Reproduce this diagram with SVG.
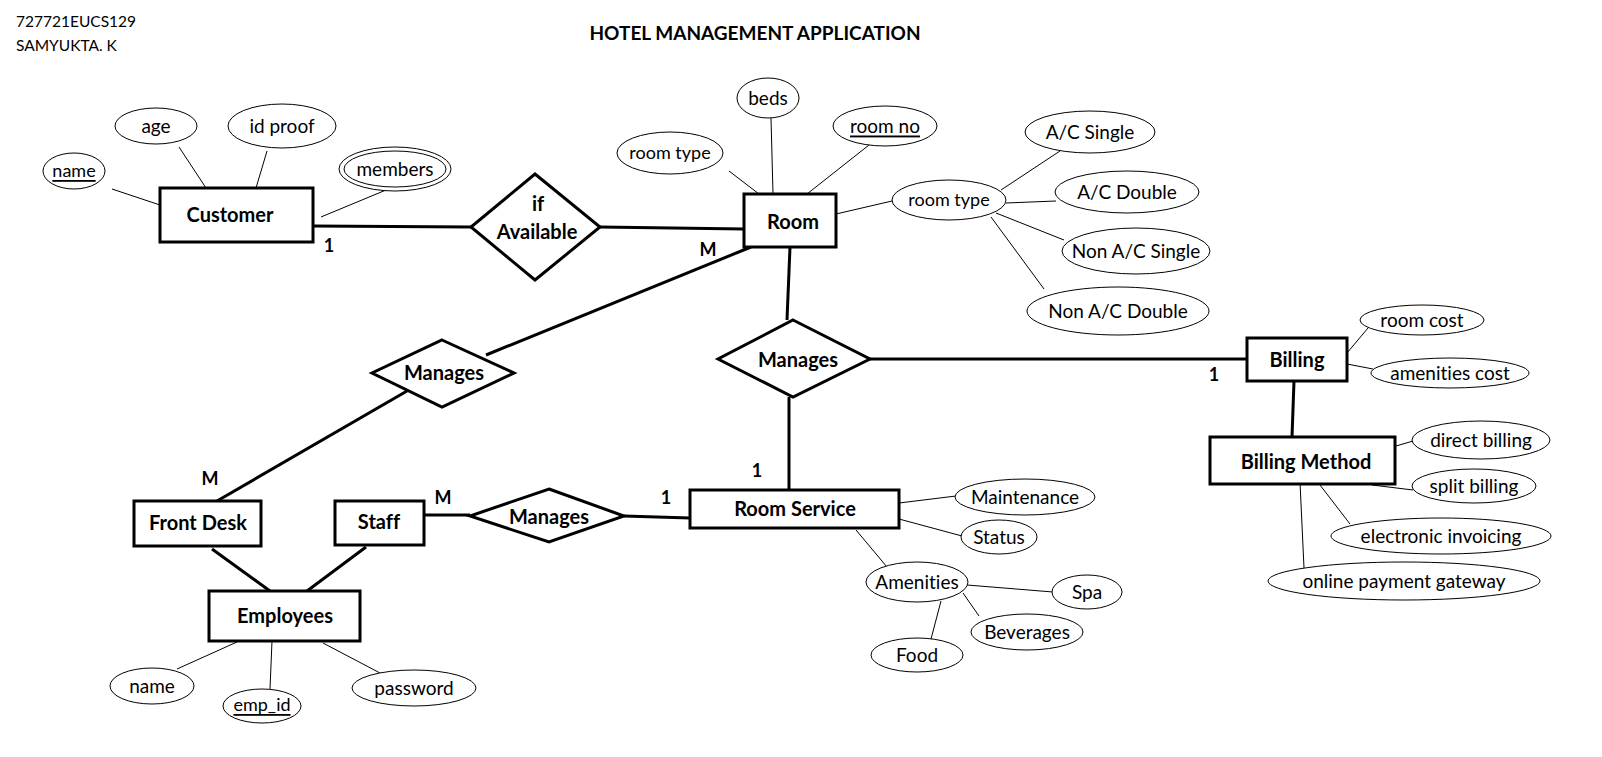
<svg xmlns="http://www.w3.org/2000/svg" width="1602" height="757" viewBox="0 0 1602 757">
<style>
text{font-family:Lato,"Open Sans","Liberation Sans",sans-serif;fill:#000;font-variant-ligatures:none;}
.t{font-size:19px;text-anchor:middle;dominant-baseline:central;}
.s{font-size:18px;}
.b{font-size:20px;font-weight:bold;text-anchor:middle;dominant-baseline:central;}
.ent{fill:#fff;stroke:#000;stroke-width:3;}
.rel{fill:#fff;stroke:#000;stroke-width:3;stroke-linejoin:miter;}
.att{fill:#fff;stroke:#000;stroke-width:1;}
.thin{stroke:#000;stroke-width:1;fill:none;}
.thick{stroke:#000;stroke-width:3;fill:none;}
.card{font-size:18px;font-weight:bold;dominant-baseline:central;text-anchor:middle;}
</style>
<rect width="1602" height="757" fill="#fff"/>
<text x="16" y="27" font-size="15.5">727721EUCS129</text>
<text x="16" y="51" font-size="15.5">SAMYUKTA. K</text>
<text x="755" y="40" font-size="19" font-weight="bold" text-anchor="middle">HOTEL MANAGEMENT APPLICATION</text>

<g id="connectors">
<line class="thick" x1="313" y1="226" x2="471" y2="227"/>
<line class="thick" x1="600" y1="227" x2="744" y2="229"/>
<line class="thick" x1="751" y1="247" x2="486" y2="355"/>
<line class="thick" x1="407" y1="391" x2="217" y2="501"/>
<line class="thick" x1="790" y1="247" x2="787" y2="320"/>
<line class="thick" x1="870" y1="359" x2="1246" y2="359"/>
<line class="thick" x1="789" y1="397" x2="789" y2="490"/>
<line class="thick" x1="424" y1="515" x2="470" y2="515"/>
<line class="thick" x1="624" y1="516" x2="690" y2="518"/>
<line class="thick" x1="1294" y1="381" x2="1292" y2="437"/>
<line class="thick" x1="212" y1="549" x2="270" y2="591"/>
<line class="thick" x1="366" y1="547" x2="307" y2="591"/>
<line class="thin" x1="112" y1="189" x2="160" y2="205"/>
<line class="thin" x1="179" y1="147" x2="206" y2="188"/>
<line class="thin" x1="267" y1="151" x2="256" y2="188"/>
<line class="thin" x1="321" y1="217" x2="386" y2="190"/>
<line class="thin" x1="729" y1="171" x2="759" y2="194"/>
<line class="thin" x1="771" y1="118" x2="773" y2="194"/>
<line class="thin" x1="869" y1="145" x2="807" y2="194"/>
<line class="thin" x1="836" y1="214" x2="892" y2="201"/>
<line class="thin" x1="1001" y1="190" x2="1060" y2="151"/>
<line class="thin" x1="1006" y1="203" x2="1056" y2="201"/>
<line class="thin" x1="996" y1="213" x2="1064" y2="240"/>
<line class="thin" x1="991" y1="217" x2="1044" y2="289"/>
<line class="thin" x1="1347" y1="353" x2="1368" y2="328"/>
<line class="thin" x1="1347" y1="364" x2="1373" y2="369"/>
<line class="thin" x1="1396" y1="446" x2="1413" y2="441"/>
<line class="thin" x1="1372" y1="485" x2="1413" y2="490"/>
<line class="thin" x1="1320" y1="485" x2="1350" y2="524"/>
<line class="thin" x1="1300" y1="482" x2="1304" y2="568"/>
<line class="thin" x1="899" y1="503" x2="956" y2="496"/>
<line class="thin" x1="899" y1="519" x2="962" y2="536"/>
<line class="thin" x1="856" y1="530" x2="887" y2="567"/>
<line class="thin" x1="967" y1="585" x2="1053" y2="592"/>
<line class="thin" x1="963" y1="593" x2="979" y2="616"/>
<line class="thin" x1="941" y1="601" x2="931" y2="639"/>
<line class="thin" x1="237" y1="642" x2="177" y2="669"/>
<line class="thin" x1="272" y1="641" x2="270" y2="689"/>
<line class="thin" x1="323" y1="643" x2="380" y2="673"/>
</g>

<g id="cardinalities">
<text class="card" x="329" y="245">1</text>
<text class="card" x="708" y="249">M</text>
<text class="card" x="1214" y="374">1</text>
<text class="card" x="757" y="470">1</text>
<text class="card" x="666" y="497">1</text>
<text class="card" x="443" y="497">M</text>
<text class="card" x="210" y="478">M</text>
</g>

<g id="customer">
<rect class="ent" x="160" y="188" width="153" height="54"/>
<text class="b" x="230" y="214">Customer</text>
</g>
<g id="cust-name"><ellipse class="att" cx="74" cy="171" rx="31" ry="18"/><text class="t s" x="74" y="170" text-decoration="underline">name</text></g>
<g id="cust-age"><ellipse class="att" cx="156" cy="126" rx="41" ry="18"/><text class="t" x="156" y="125">age</text></g>
<g id="cust-idproof"><ellipse class="att" cx="282" cy="126" rx="54" ry="22"/><text class="t" x="282" y="125">id proof</text></g>
<g id="cust-members"><ellipse class="att" cx="395" cy="169" rx="56" ry="22"/><ellipse class="att" cx="395" cy="169" rx="51" ry="18"/><text class="t" x="395" y="168">members</text></g>

<g id="if-available">
<polygon class="rel" points="535,174 600,227 535,280 471,227"/>
<text class="b" x="538" y="203">if</text>
<text class="b" x="537" y="231">Available</text>
</g>

<g id="room">
<rect class="ent" x="744" y="194" width="92" height="53"/>
<text class="b" x="793" y="221">Room</text>
</g>
<g id="room-type1"><ellipse class="att" cx="670" cy="153" rx="53" ry="21"/><text class="t s" x="670" y="152">room type</text></g>
<g id="room-beds"><ellipse class="att" cx="768" cy="98" rx="31" ry="20"/><text class="t" x="768" y="97">beds</text></g>
<g id="room-no"><ellipse class="att" cx="885" cy="126" rx="52" ry="20"/><text class="t" x="885" y="125" text-decoration="underline">room no</text></g>
<g id="room-type2"><ellipse class="att" cx="949" cy="200" rx="57" ry="20"/><text class="t s" x="949" y="199">room type</text></g>
<g id="ac-single"><ellipse class="att" cx="1090" cy="132" rx="65" ry="21"/><text class="t" x="1090" y="131">A/C Single</text></g>
<g id="ac-double"><ellipse class="att" cx="1127" cy="192" rx="72" ry="21"/><text class="t" x="1127" y="191">A/C Double</text></g>
<g id="nonac-single"><ellipse class="att" cx="1136" cy="251" rx="74" ry="23"/><text class="t" x="1136" y="250">Non A/C Single</text></g>
<g id="nonac-double"><ellipse class="att" cx="1118" cy="311" rx="91" ry="24"/><text class="t" x="1118" y="310">Non A/C Double</text></g>

<g id="manages-billing">
<polygon class="rel" points="793,320 870,359 793,397 718,359"/>
<text class="b" x="798" y="359">Manages</text>
</g>

<g id="billing">
<rect class="ent" x="1247" y="338" width="100" height="43"/>
<text class="b" x="1297" y="359">Billing</text>
</g>
<g id="room-cost"><ellipse class="att" cx="1422" cy="320" rx="62" ry="15"/><text class="t" x="1422" y="319">room cost</text></g>
<g id="amenities-cost"><ellipse class="att" cx="1450" cy="373" rx="79" ry="15"/><text class="t" x="1450" y="372">amenities cost</text></g>

<g id="billing-method">
<rect class="ent" x="1210" y="437" width="185" height="47"/>
<text class="b" x="1306" y="461">Billing Method</text>
</g>
<g id="direct-billing"><ellipse class="att" cx="1481" cy="440" rx="69" ry="19"/><text class="t" x="1481" y="439">direct billing</text></g>
<g id="split-billing"><ellipse class="att" cx="1474" cy="486" rx="62" ry="17"/><text class="t" x="1474" y="485">split billing</text></g>
<g id="e-invoicing"><ellipse class="att" cx="1441" cy="536" rx="110" ry="18"/><text class="t" x="1441" y="535">electronic invoicing</text></g>
<g id="online-gateway"><ellipse class="att" cx="1404" cy="581" rx="136" ry="19"/><text class="t" x="1404" y="580">online payment gateway</text></g>

<g id="room-service">
<rect class="ent" x="690" y="490" width="209" height="38"/>
<text class="b" x="795" y="508">Room Service</text>
</g>
<g id="maintenance"><ellipse class="att" cx="1025" cy="497" rx="70" ry="18"/><text class="t" x="1025" y="496">Maintenance</text></g>
<g id="status"><ellipse class="att" cx="999" cy="537" rx="38" ry="17"/><text class="t" x="999" y="536">Status</text></g>
<g id="amenities"><ellipse class="att" cx="917" cy="582" rx="51" ry="20"/><text class="t" x="917" y="581">Amenities</text></g>
<g id="spa"><ellipse class="att" cx="1087" cy="592" rx="35" ry="17"/><text class="t" x="1087" y="591">Spa</text></g>
<g id="beverages"><ellipse class="att" cx="1027" cy="632" rx="56" ry="18"/><text class="t" x="1027" y="631">Beverages</text></g>
<g id="food"><ellipse class="att" cx="917" cy="655" rx="46" ry="17"/><text class="t" x="917" y="654">Food</text></g>

<g id="manages-frontdesk">
<polygon class="rel" points="442,340 514,373 442,407 372,373"/>
<text class="b" x="444" y="372">Manages</text>
</g>

<g id="manages-staff">
<polygon class="rel" points="549,489 624,516 549,542 470,516"/>
<text class="b" x="549" y="516">Manages</text>
</g>

<g id="front-desk">
<rect class="ent" x="134" y="501" width="127" height="45"/>
<text class="b" x="198" y="522">Front Desk</text>
</g>

<g id="staff">
<rect class="ent" x="335" y="501" width="89" height="44"/>
<text class="b" x="379" y="521">Staff</text>
</g>

<g id="employees">
<rect class="ent" x="209" y="591" width="151" height="50"/>
<text class="b" x="285" y="615">Employees</text>
</g>
<g id="emp-name"><ellipse class="att" cx="152" cy="686" rx="42" ry="18"/><text class="t" x="152" y="685">name</text></g>
<g id="emp-id"><ellipse class="att" cx="262" cy="706" rx="39" ry="17"/><text class="t s" x="262" y="704" text-decoration="underline">emp_id</text></g>
<g id="emp-password"><ellipse class="att" cx="414" cy="688" rx="62" ry="18"/><text class="t" x="414" y="687">password</text></g>
</svg>
